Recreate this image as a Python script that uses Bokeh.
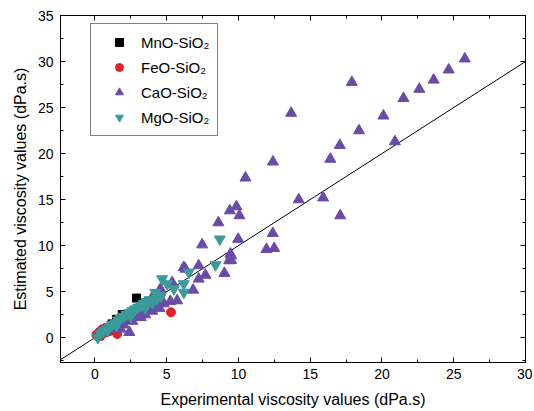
from bokeh.plotting import figure
from bokeh.models import LinearAxis, Legend, LegendItem, Range1d, SingleIntervalTicker
from bokeh.embed import file_html
from bokeh.resources import INLINE

# ---- data ----
mno_x = [0.2, 0.3, 0.4, 0.6, 0.9, 1.2, 1.5, 1.9, 2.9]
mno_y = [0.3, 0.2, 0.5, 0.7, 1.1, 1.5, 2.0, 2.5, 4.3]

feo_x = [0.1, 0.2, 0.27, 0.4, 0.5, 0.6, 0.8, 1.0, 1.3, 1.55, 5.3]
feo_y = [0.3, 0.1, 0.58, 0.2, 0.9, 0.5, 0.6, 0.7, 0.8, 0.4, 2.75]

cao_x = [0.3, 0.5, 0.7, 0.9, 1.1, 1.3, 1.5, 1.78, 2.4, 1.8, 2.1, 2.4, 2.7, 3.0, 3.3,
         3.6, 3.9, 4.2, 2.0, 2.6, 3.2, 3.5, 4.0, 4.5, 4.8, 3.8, 3.99, 4.56, 5.26, 5.73,
         4.56, 5.38, 6.84, 7.23, 7.7, 6.19, 7.23, 6.3, 9.02, 9.35, 9.44, 9.49, 9.5,
         7.47, 9.98, 11.95, 12.49, 12.39, 8.6, 9.4, 9.86, 10.07, 10.49, 12.4, 13.67,
         14.2, 15.9, 16.4, 17.06, 17.09, 17.9, 18.4, 20.1, 20.9, 21.5, 22.6, 23.6,
         24.65, 25.77]
cao_y = [0.4, 0.6, 0.7, 0.9, 1.0, 1.2, 1.5, 0.95, 0.58, 1.6, 1.9, 2.0, 2.4, 2.6, 2.9,
         3.1, 3.3, 3.6, 1.4, 1.8, 2.2, 2.5, 2.9, 3.2, 3.7, 3.0, 4.38, 4.2, 3.95, 4.02,
         5.29, 6.0, 5.18, 6.38, 6.8, 7.64, 7.83, 7.46, 7.0, 8.37, 9.1, 8.4, 8.9,
         10.1, 10.7, 9.6, 9.7, 11.34, 12.5, 13.8, 14.24, 13.26, 17.36, 19.1, 24.4,
         15.0, 15.2, 19.4, 20.9, 13.26, 27.75, 22.5, 24.1, 21.3, 26.0, 27.0, 28.0,
         29.1, 30.3]

mgo_x = [0.2, 0.4, 0.6, 0.8, 0.9, 1.0, 1.2, 1.4, 1.5, 1.6, 1.8, 2.0, 2.2, 2.4, 2.5,
         2.6, 2.8, 3.0, 3.2, 3.4, 3.5, 3.6, 3.8, 4.0, 4.2, 4.3, 4.6, 4.68, 5.03, 5.5,
         6.19, 6.19, 6.54, 8.4, 8.7]
mgo_y = [0.0, 0.4, 0.7, 0.9, 0.8, 1.2, 1.4, 1.6, 1.3, 1.9, 2.1, 2.3, 2.5, 2.7, 2.3,
         2.9, 3.1, 3.3, 3.5, 3.7, 3.2, 3.9, 4.1, 3.8, 4.9, 4.2, 4.5, 6.38, 5.84, 5.3,
         5.84, 4.92, 7.1, 7.9, 10.7]

ref_line = [-3, 30]

labels = ["MnO-SiO\u2082", "FeO-SiO\u2082", "CaO-SiO\u2082", "MgO-SiO\u2082"]
colors = ["#000000", "#E3202A", "#6A4BA8", "#3A9B9B"]

FONT = "Liberation Sans"
W, H = 532, 410

p = figure(width=W, height=H, output_backend="svg", toolbar_location=None,
           x_range=Range1d(-2.4, 30), y_range=Range1d(-2.7, 35),
           min_border_left=60, min_border_top=15, min_border_right=W - 525,
           min_border_bottom=H - 362)
p.background_fill_color = "white"
p.border_fill_color = "white"
p.outline_line_color = "black"
p.outline_line_width = 1
p.xgrid.visible = False
p.ygrid.visible = False

p.line(ref_line, ref_line, line_color="black", line_width=1)

r1 = p.scatter(mno_x, mno_y, marker="square", size=8, fill_color=colors[0], line_color=colors[0])
r2 = p.scatter(feo_x, feo_y, marker="circle", size=9, fill_color=colors[1], line_color=colors[1])
r3 = p.scatter(cao_x, cao_y, marker="triangle", size=11, fill_color=colors[2], line_color=colors[2])
r4 = p.scatter(mgo_x, mgo_y, marker="inverted_triangle", size=11, fill_color=colors[3], line_color=colors[3])

def style_axis(ax, show_labels=True):
    ax.ticker = SingleIntervalTicker(interval=5, num_minor_ticks=2)
    ax.axis_line_color = "black"
    ax.major_tick_in = 5
    ax.major_tick_out = 0
    ax.minor_tick_in = 3
    ax.minor_tick_out = 0
    ax.major_tick_line_color = "black"
    ax.minor_tick_line_color = "black"
    ax.major_label_text_font = FONT
    ax.axis_label_text_font = FONT
    ax.axis_label_text_font_style = "normal"
    ax.axis_label_text_color = "black"
    if show_labels:
        ax.major_label_text_color = "black"
        ax.major_label_text_font_size = "14px"
        ax.axis_label_text_font_size = "16px"
    else:
        ax.major_label_text_color = None
        ax.major_label_text_font_size = "1px"
        ax.major_label_standoff = 0

style_axis(p.xaxis[0])
style_axis(p.yaxis[0])
p.xaxis[0].axis_label = "Experimental viscosity values (dPa.s)"
p.yaxis[0].axis_label = "Estimated viscosity values (dPa.s)"
p.xaxis[0].major_label_standoff = 6
p.yaxis[0].major_label_standoff = 7
p.xaxis[0].axis_label_standoff = 9
p.yaxis[0].axis_label_standoff = 6

top = LinearAxis()
style_axis(top, show_labels=False)
p.add_layout(top, "above")
right = LinearAxis()
style_axis(right, show_labels=False)
p.add_layout(right, "right")

legend = Legend(items=[LegendItem(label=labels[0], renderers=[r1]),
                       LegendItem(label=labels[1], renderers=[r2]),
                       LegendItem(label=labels[2], renderers=[r3]),
                       LegendItem(label=labels[3], renderers=[r4])],
                location=(30, 226))
legend.label_text_font = FONT
legend.label_text_font_size = "15px"
legend.label_text_color = "black"
legend.border_line_color = "black"
legend.border_line_width = 1
legend.background_fill_color = "white"
legend.background_fill_alpha = 1
legend.padding = 8
legend.spacing = 5
legend.label_height = 20
legend.glyph_height = 20
legend.glyph_width = 40
legend.label_standoff = 2
legend.margin = 0
p.add_layout(legend, "center")

open("out.html", "w").write(file_html(p, INLINE))
